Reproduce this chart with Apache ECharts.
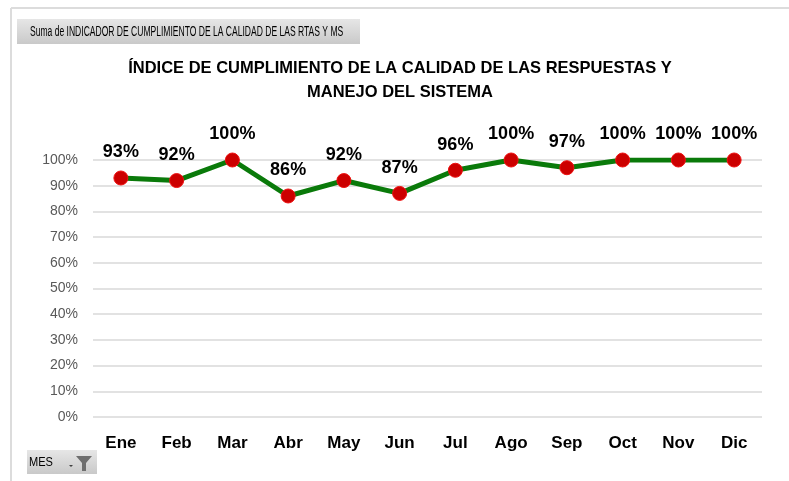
<!DOCTYPE html>
<html>
<head>
<meta charset="utf-8">
<script src="https://cdn.jsdelivr.net/npm/echarts@6/dist/echarts.min.js"></script>
<style>
html,body{margin:0;padding:0;background:#fff;}
#chart{width:789px;height:481px;}
</style>
</head>
<body>
<div id="chart"></div>
<script>
const categories = ['Ene','Feb','Mar','Abr','May','Jun','Jul','Ago','Sep','Oct','Nov','Dic'];
const values = [0.93, 0.92, 1.00, 0.86, 0.92, 0.87, 0.96, 1.00, 0.97, 1.00, 1.00, 1.00];
const titleLines = ['ÍNDICE DE CUMPLIMIENTO DE LA CALIDAD DE LAS RESPUESTAS Y', 'MANEJO DEL SISTEMA'];
const fieldLabel = 'Suma de INDICADOR DE CUMPLIMIENTO DE LA CALIDAD DE LAS RTAS Y MS';
const filterLabel = 'MES';

const chart = echarts.init(document.getElementById('chart'), null, {renderer:'canvas'});
const pct = v => Math.round(v * 100) + '%';
const font = '"Liberation Sans", Arial, sans-serif';
const btnGrad = () => new echarts.graphic.LinearGradient(0,0,0,1,[{offset:0,color:'#e6e6e6'},{offset:1,color:'#c9c9c9'}]);

chart.setOption({
  backgroundColor:'#ffffff',
  animation:false,
  grid:{left:93, right:27, top:160, bottom:64},
  xAxis:{
    type:'category', data:categories, boundaryGap:true,
    axisLine:{show:false}, axisTick:{show:false},
    axisLabel:{fontFamily:font, fontSize:17, fontWeight:'bold', color:'#000', margin:18}
  },
  yAxis:{
    type:'value', min:0, max:1, interval:0.1,
    axisLine:{show:false}, axisTick:{show:false},
    axisLabel:{formatter:pct, fontFamily:font, fontSize:14, color:'#595959', margin:15},
    splitLine:{lineStyle:{color:'#d9d9d9', width:1.5}}
  },
  series:[{
    type:'line', data:values,
    lineStyle:{color:'#0a7a0a', width:5},
    symbol:'circle', symbolSize:14,
    itemStyle:{color:'#cc0000', borderColor:'#ee1111', borderWidth:1},
    label:{show:true, position:'top', distance:9, formatter:p=>pct(p.value),
      fontFamily:font, fontSize:18, fontWeight:'bold', color:'#000'}
  }],
  graphic:[
    {type:'line', shape:{x1:11,y1:8,x2:789,y2:8}, style:{stroke:'#dcdcdc', lineWidth:2}},
    {type:'line', shape:{x1:11,y1:8,x2:11,y2:481}, style:{stroke:'#dcdcdc', lineWidth:2}},
    {type:'rect', shape:{x:17,y:19,width:343,height:25}, style:{fill:btnGrad()}},
    {type:'text', x:30, y:32, scaleX:0.61, style:{text:fieldLabel, fontFamily:font, fontSize:14, fill:'#000', verticalAlign:'middle'}},
    {type:'text', x:400, y:68, scaleX:0.97, style:{text:titleLines[0], fontFamily:font, fontSize:17, fontWeight:'bold', fill:'#000', align:'center', verticalAlign:'middle'}},
    {type:'text', x:400, y:92, scaleX:0.97, style:{text:titleLines[1], fontFamily:font, fontSize:17, fontWeight:'bold', fill:'#000', align:'center', verticalAlign:'middle'}},
    {type:'rect', shape:{x:27,y:450,width:70,height:24}, style:{fill:btnGrad()}},
    {type:'text', x:29, y:462, scaleX:0.85, style:{text:filterLabel, fontFamily:font, fontSize:13, fill:'#000', verticalAlign:'middle'}},
    {type:'polygon', shape:{points:[[69,465],[73,465],[71,467]]}, style:{fill:'#404040'}},
    {type:'polygon', shape:{points:[[76,456],[92,456],[86,463],[86,471],[82,471],[82,463]]}, style:{fill:'#6e6e6e'}}
  ]
});
</script>
</body>
</html>
